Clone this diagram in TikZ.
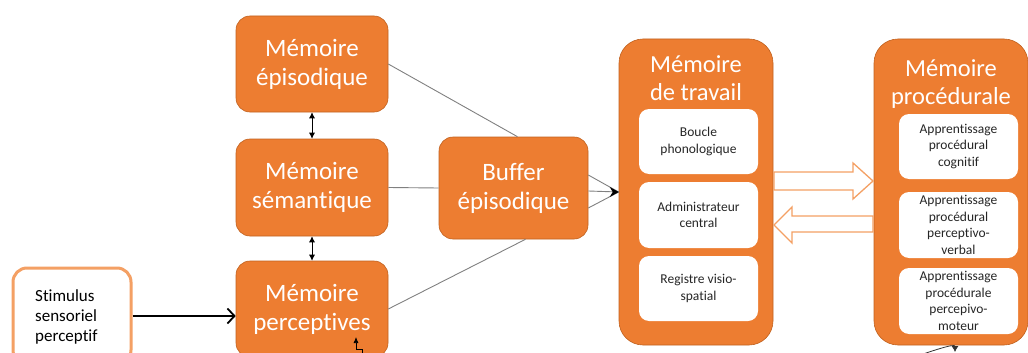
\documentclass[tikz,border=0pt]{standalone}
\usepackage{fontspec}
\setmainfont{Carlito}[Ligatures={NoCommon}]
\usetikzlibrary{arrows.meta,calc}
\definecolor{orfill}{HTML}{ED7D31}
\definecolor{orline}{HTML}{C0611F}
\definecolor{orlight}{HTML}{F4A064}
\definecolor{linegray}{HTML}{808080}
\begin{document}
\begin{tikzpicture}[x=1pt,y=-1pt,
  obox/.style={draw=orline, line width=0.6pt, fill=orfill, rounded corners=14pt, text=white, align=center, font=\fontsize{25}{29}\selectfont, inner sep=0pt},
  bigbox/.style={draw=orline, line width=0.6pt, fill=orfill, rounded corners=24pt, inner sep=0pt},
  title/.style={text=white, align=center, font=\fontsize{24.5}{27.5}\selectfont, inner sep=0pt},
  wbox/.style={fill=white, draw=none, rounded corners=10pt, align=center, text=black!85, font=\fontsize{13.5}{16.5}\selectfont, inner sep=0pt, minimum width=119pt},
  stimbox/.style={draw=orlight, line width=3pt, fill=white, rounded corners=14pt, inner sep=0pt},
  stimtext/.style={align=left, text=black, font=\fontsize{17}{20}\selectfont, inner sep=0pt},
  glink/.style={draw=linegray, line width=0.9pt},
  dbl/.style={black, line width=0.7pt, {Latex[length=6pt,width=6pt]}-{Latex[length=6pt,width=6pt]}},
  barrow/.style={draw=orlight, line width=1.3pt, fill=white, line join=miter}
]
\useasboundingbox (0,0) rectangle (1028,353);

% left column
\node[obox, minimum width=152pt, minimum height=96pt] (epi) at (312,64) {Mémoire\\épisodique};
\node[obox, minimum width=152pt, minimum height=97pt] (sem) at (312,187.5) {Mémoire\\sémantique};
\node[obox, minimum width=152pt, minimum height=96pt] (per) at (312,309) {Mémoire\\perceptives};
\node[stimbox, minimum width=118pt, minimum height=96pt] (stim) at (72,316) {};
\node[stimtext, anchor=west] (stimt) at (35,317) {Stimulus\\sensoriel\\perceptif};

% buffer
\node[obox, minimum width=149pt, minimum height=102pt] (buf) at (513.5,188) {Buffer\\épisodique};

% working memory
\node[bigbox, minimum width=154pt, minimum height=306pt] (mt) at (696,192) {};
\node[title] (mtt) at (696,78) {Mémoire\\de travail};
\node[wbox, minimum height=65pt] (mt1) at (698.5,141.5) {Boucle\\phonologique};
\node[wbox, minimum height=66pt] (mt2) at (698.5,215) {Administrateur\\central};
\node[wbox, minimum height=65pt] (mt3) at (698.5,288.5) {Registre visio-\\spatial};

% procedural memory
\node[bigbox, minimum width=154pt, minimum height=306pt] (pm) at (951,192) {};
\node[title] (pmt) at (951,84) {Mémoire\\procédurale};
\node[wbox, minimum height=65pt] (pm1) at (958.5,146.5) {Apprentissage\\procédural\\cognitif};
\node[wbox, minimum height=66pt] (pm2) at (958.5,225) {Apprentissage\\procédural\\perceptivo-\\verbal};
\node[wbox, minimum height=66pt] (pm3) at (958.5,301) {Apprentissage\\procédurale\\percepivo-\\moteur};

% block arrows
\draw[barrow] (774,172) -- (853,172) -- (853,163) -- (873,181) -- (853,199) -- (853,190) -- (774,190) -- cycle;
\draw[barrow] (873,216) -- (792,216) -- (792,207) -- (774,225) -- (792,243) -- (792,232) -- (873,232) -- cycle;

% gray links
\draw[glink] (epi.east) -- ($(buf.north)+(4,0)$);
\draw[glink] (sem.east) -- (buf.west);
\draw[glink] (per.east) -- ($(buf.south)+(12,0)$);
\draw[glink] ($(buf.east)+(0,-13)$) -- (mt.west);
\draw[glink] ($(buf.east)+(0,20)$) -- (mt.west);
\draw[glink] ($(buf.east)+(0,3)$) -- (mt.west);
\fill[black] ($(mt.west)+(-9,-5)$) -- (mt.west) -- ($(mt.west)+(-9,5)$) -- ($(mt.west)+(-6,0)$) -- cycle;

% vertical double arrows
\draw[dbl] (epi.south) -- (sem.north);
\draw[dbl] (sem.south) -- (per.north);

% stimulus arrow
\draw[black, line width=1.8pt, -{Straight Barb[length=7pt,width=15pt]}] (stim.east) -- (per.west |- stim.east);

% bottom partial connectors
\coordinate (pin) at (356,337);
\coordinate (pout) at (362,360);
\draw[black, line width=0.7pt, -{Latex[length=6pt,width=5pt]}] (pout) -- (362,349) -- (356,349) -- (pin);
\coordinate (qin) at (955,352);
\coordinate (qout) at (905,360);
\draw[black!80, line width=0.8pt, -{Latex[length=6pt,width=7pt]}] (qout) .. controls (935,350) and (955,343) .. (qin);
\end{tikzpicture}
\end{document}
